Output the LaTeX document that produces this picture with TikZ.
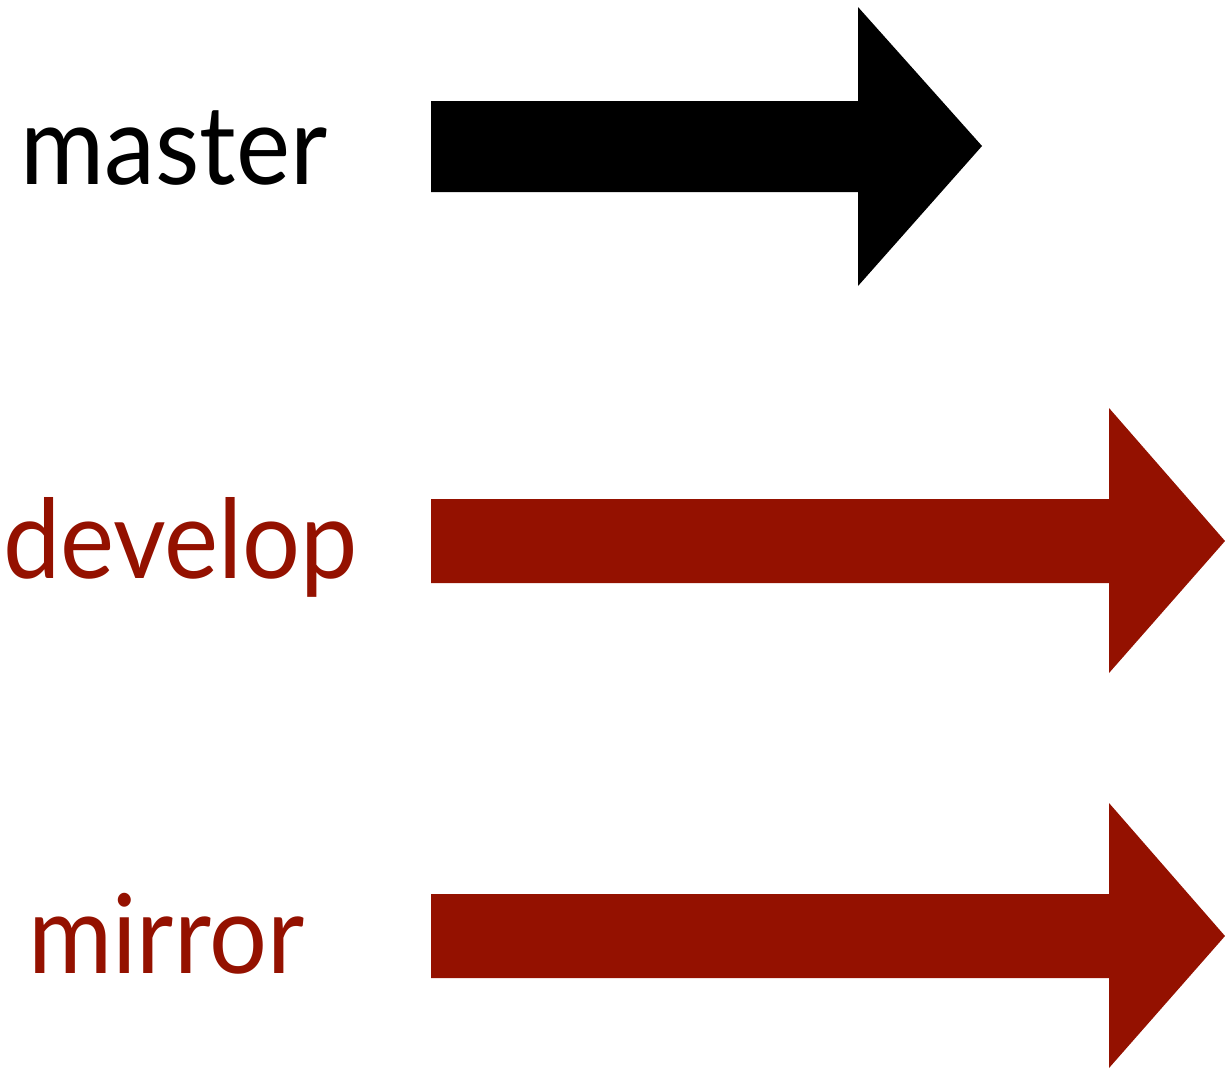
\documentclass[tikz,border=0pt]{standalone}
\usepackage{fontspec}
\setmainfont{Lato}[FakeStretch=0.93]
\definecolor{branchred}{RGB}{148,17,0}
\tikzset{
  branchlabel/.style={anchor=base west, inner sep=0pt, font=\fontsize{110}{110}\selectfont},
}
\begin{document}
\begin{tikzpicture}[x=1pt,y=-1pt]
  \useasboundingbox (0,0) rectangle (1225,1072);

  % master arrow
  \fill[black] (431,101) -- (858,101) -- (858,7) -- (982,146)
    -- (858,286) -- (858,192) -- (431,192) -- cycle;
  \node[branchlabel, text=black] (master) at (20,184) {master};

  % develop arrow
  \fill[branchred] (431,499) -- (1109,499) -- (1109,408) -- (1225,541)
    -- (1109,673) -- (1109,583) -- (431,583) -- cycle;
  \node[branchlabel, text=branchred] (develop) at (3,578) {develop};

  % mirror arrow
  \fill[branchred] (431,894) -- (1109,894) -- (1109,803) -- (1225,936)
    -- (1109,1068) -- (1109,978) -- (431,978) -- cycle;
  \node[branchlabel, text=branchred] (mirror) at (28,973) {mirror};
\end{tikzpicture}
\end{document}
